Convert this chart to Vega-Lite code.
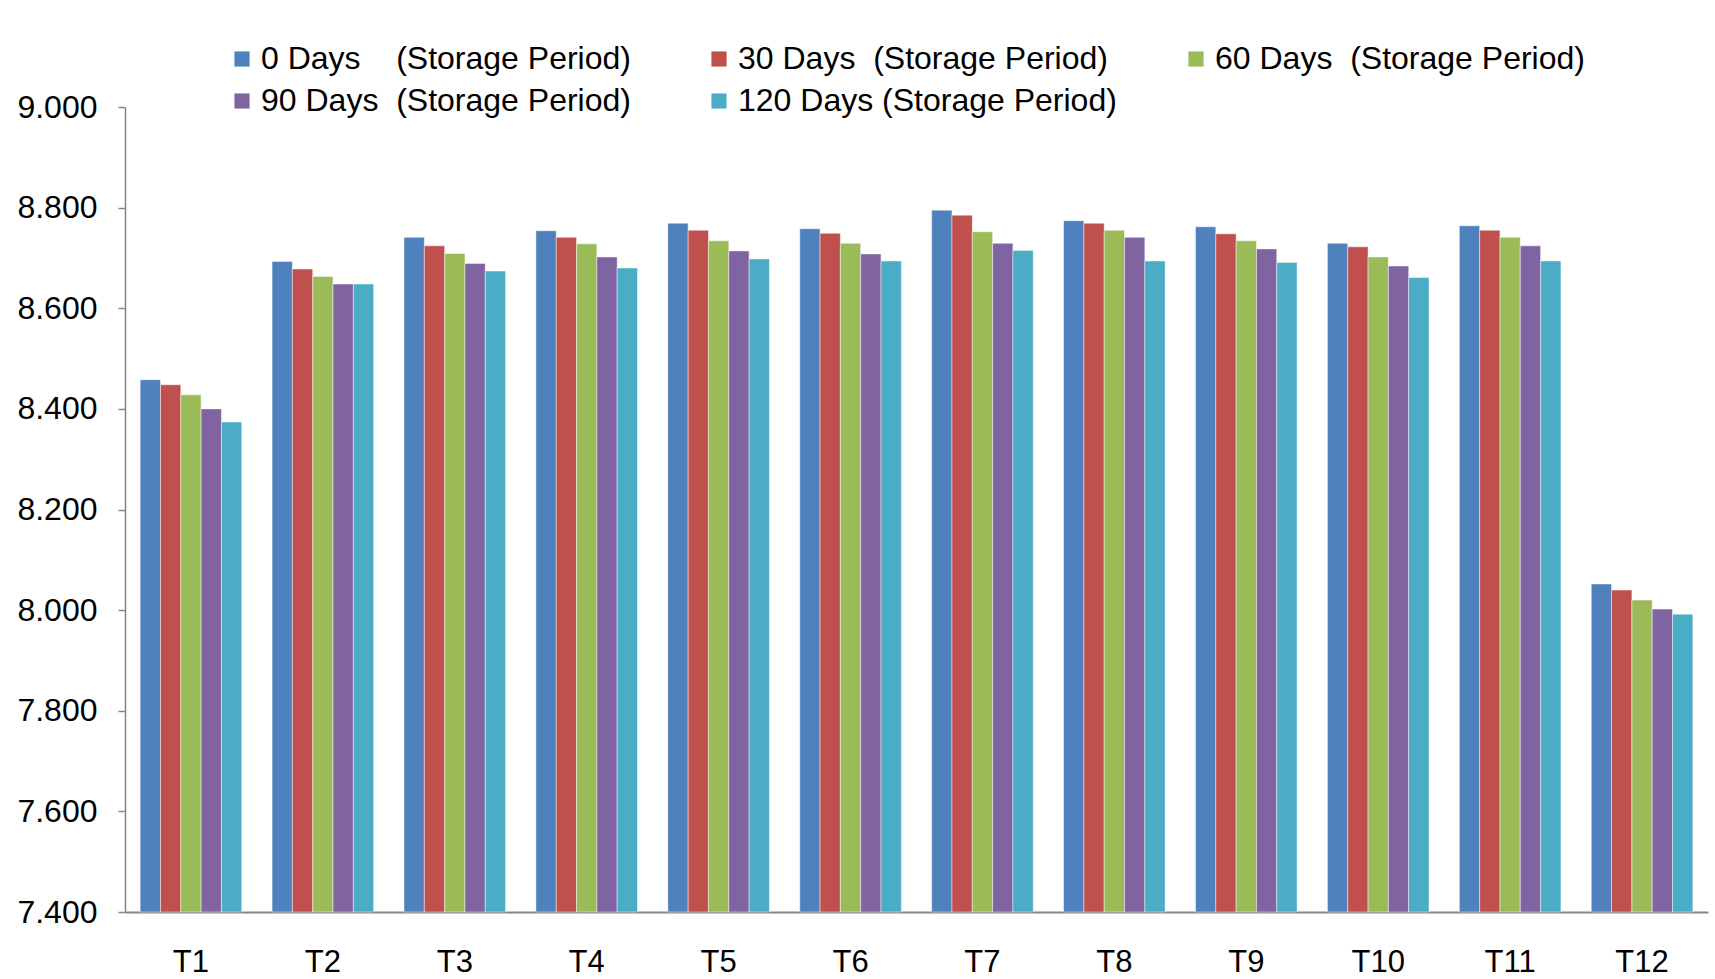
{
  "$schema": "https://vega.github.io/schema/vega-lite/v6.json",
  "width": 1583,
  "height": 805,
  "autosize": {"type": "none"},
  "padding": {"left": 125, "top": 107, "right": 7, "bottom": 67},
  "background": "white",
  "config": {
    "font": "Liberation Sans",
    "view": {"stroke": null},
    "axis": {"grid": false, "domainColor": "#868686", "tickColor": "#868686", "labelColor": "#000000", "labelFont": "Liberation Sans"}
  },
  "data": {
    "values": [
      {"t": "T1", "s": "0", "v": 8.458}, {"t": "T1", "s": "30", "v": 8.448}, {"t": "T1", "s": "60", "v": 8.428}, {"t": "T1", "s": "90", "v": 8.400}, {"t": "T1", "s": "120", "v": 8.374},
      {"t": "T2", "s": "0", "v": 8.693}, {"t": "T2", "s": "30", "v": 8.678}, {"t": "T2", "s": "60", "v": 8.663}, {"t": "T2", "s": "90", "v": 8.648}, {"t": "T2", "s": "120", "v": 8.648},
      {"t": "T3", "s": "0", "v": 8.741}, {"t": "T3", "s": "30", "v": 8.724}, {"t": "T3", "s": "60", "v": 8.709}, {"t": "T3", "s": "90", "v": 8.689}, {"t": "T3", "s": "120", "v": 8.674},
      {"t": "T4", "s": "0", "v": 8.754}, {"t": "T4", "s": "30", "v": 8.741}, {"t": "T4", "s": "60", "v": 8.728}, {"t": "T4", "s": "90", "v": 8.702}, {"t": "T4", "s": "120", "v": 8.680},
      {"t": "T5", "s": "0", "v": 8.769}, {"t": "T5", "s": "30", "v": 8.755}, {"t": "T5", "s": "60", "v": 8.734}, {"t": "T5", "s": "90", "v": 8.714}, {"t": "T5", "s": "120", "v": 8.698},
      {"t": "T6", "s": "0", "v": 8.758}, {"t": "T6", "s": "30", "v": 8.749}, {"t": "T6", "s": "60", "v": 8.729}, {"t": "T6", "s": "90", "v": 8.708}, {"t": "T6", "s": "120", "v": 8.694},
      {"t": "T7", "s": "0", "v": 8.795}, {"t": "T7", "s": "30", "v": 8.785}, {"t": "T7", "s": "60", "v": 8.752}, {"t": "T7", "s": "90", "v": 8.729}, {"t": "T7", "s": "120", "v": 8.715},
      {"t": "T8", "s": "0", "v": 8.774}, {"t": "T8", "s": "30", "v": 8.769}, {"t": "T8", "s": "60", "v": 8.755}, {"t": "T8", "s": "90", "v": 8.741}, {"t": "T8", "s": "120", "v": 8.694},
      {"t": "T9", "s": "0", "v": 8.762}, {"t": "T9", "s": "30", "v": 8.748}, {"t": "T9", "s": "60", "v": 8.734}, {"t": "T9", "s": "90", "v": 8.718}, {"t": "T9", "s": "120", "v": 8.691},
      {"t": "T10", "s": "0", "v": 8.729}, {"t": "T10", "s": "30", "v": 8.722}, {"t": "T10", "s": "60", "v": 8.702}, {"t": "T10", "s": "90", "v": 8.684}, {"t": "T10", "s": "120", "v": 8.661},
      {"t": "T11", "s": "0", "v": 8.764}, {"t": "T11", "s": "30", "v": 8.755}, {"t": "T11", "s": "60", "v": 8.741}, {"t": "T11", "s": "90", "v": 8.724}, {"t": "T11", "s": "120", "v": 8.694},
      {"t": "T12", "s": "0", "v": 8.052}, {"t": "T12", "s": "30", "v": 8.040}, {"t": "T12", "s": "60", "v": 8.020}, {"t": "T12", "s": "90", "v": 8.002}, {"t": "T12", "s": "120", "v": 7.992}
    ]
  },
  "mark": {"type": "bar", "stroke": "#ffffff", "strokeWidth": 1, "strokeOpacity": 0.45},
  "encoding": {
    "x": {
      "field": "t", "type": "nominal", "sort": null,
      "scale": {"paddingInner": 0.23, "paddingOuter": 0.115},
      "axis": {"title": null, "labelAngle": 0, "ticks": false, "labelFontSize": 31, "labelPadding": 35, "domainWidth": 2}
    },
    "xOffset": {"field": "s", "type": "nominal", "scale": {"domain": ["0", "30", "60", "90", "120"]}},
    "y": {
      "field": "v", "type": "quantitative",
      "scale": {"domain": [7.4, 9.0], "zero": false, "nice": false},
      "axis": {"title": null, "values": [7.4, 7.6, 7.8, 8.0, 8.2, 8.4, 8.6, 8.8, 9.0], "format": ".3f", "labelFontSize": 32, "tickSize": 7, "labelPadding": 21, "domainWidth": 1.5, "tickWidth": 1.5}
    },
    "y2": {"datum": 7.4},
    "color": {
      "field": "s", "type": "nominal",
      "scale": {"domain": ["0", "30", "60", "90", "120"], "range": ["#4F81BD", "#C0504D", "#9BBB59", "#8064A2", "#4BACC6"]},
      "legend": {
        "title": null,
        "orient": "none",
        "legendX": 101,
        "legendY": -64,
        "direction": "horizontal",
        "columns": 3,
        "gridAlign": "all",
        "columnPadding": 63,
        "rowPadding": 10,
        "symbolType": "square",
        "symbolSize": 230,
        "symbolStrokeWidth": 0,
        "labelFontSize": 32,
        "labelColor": "#000000",
        "labelOffset": 3,
        "labelLimit": 600,
        "labelExpr": "{'0': '\u00a00 Days\u00a0\u00a0\u00a0\u00a0(Storage Period)', '30': '30 Days\u00a0\u00a0(Storage Period)', '60': '60 Days\u00a0\u00a0(Storage Period)', '90': '90 Days\u00a0\u00a0(Storage Period)', '120': '120 Days (Storage Period)'}[datum.value]"
      }
    }
  }
}
